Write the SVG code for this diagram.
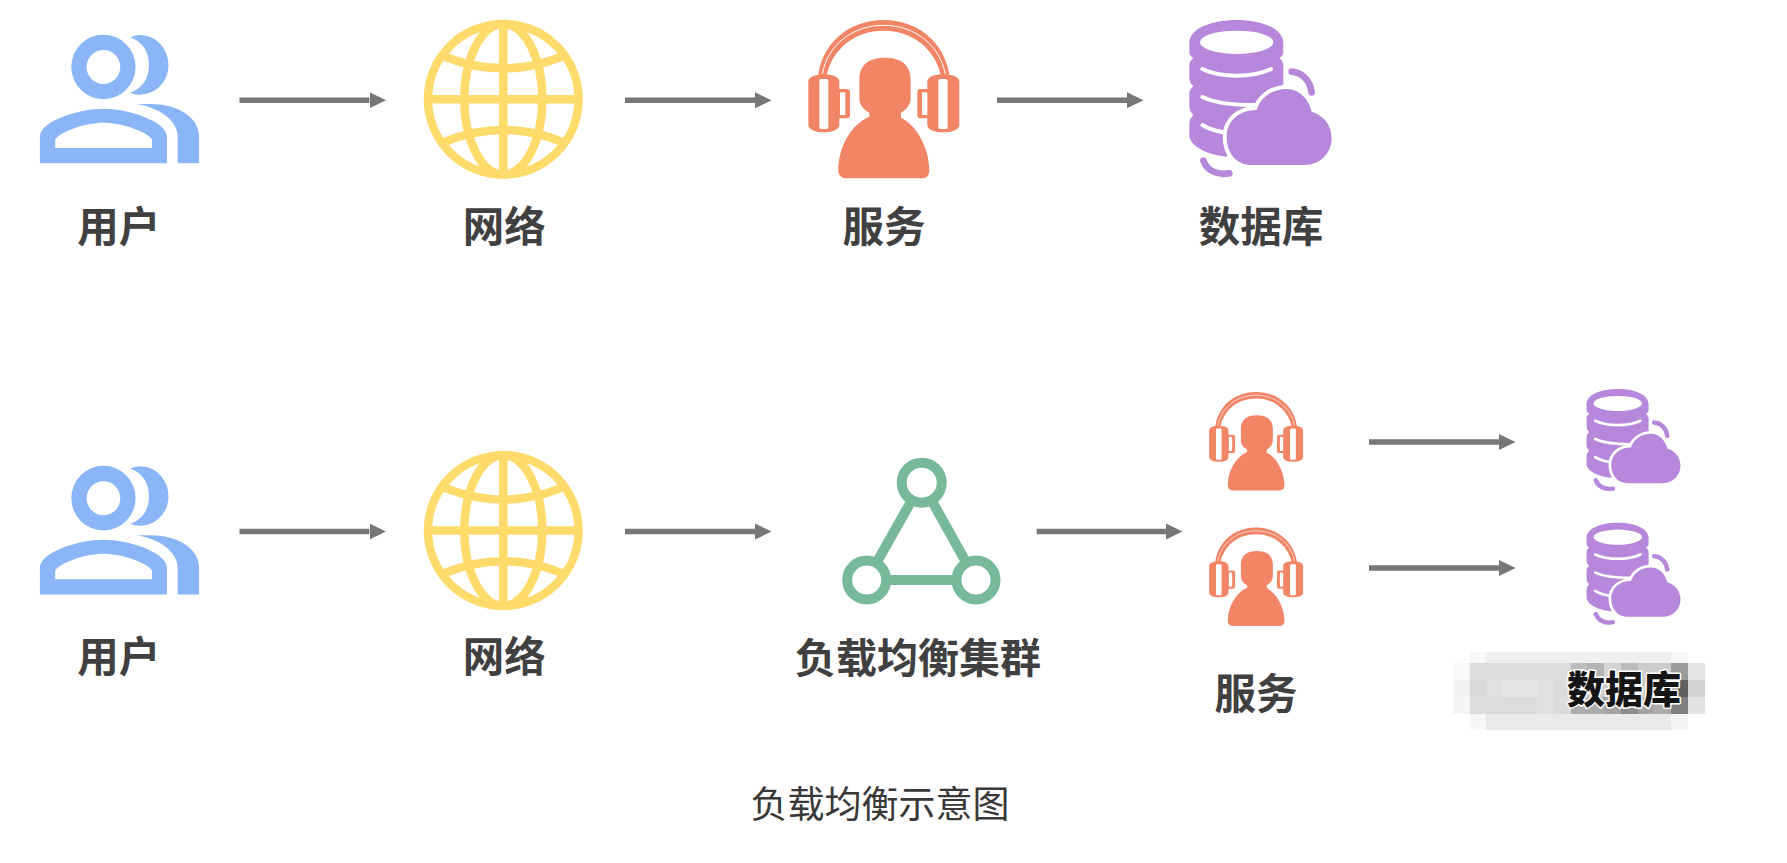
<svg xmlns="http://www.w3.org/2000/svg" width="1787" height="863" viewBox="0 0 1787 863">
<style>
text{font-family:"Noto Sans CJK SC","Noto Sans CJK JP",sans-serif;text-anchor:middle}
.lb{font-weight:700;font-size:41.5px;fill:#404040}
.cap{font-weight:400;font-size:37px;fill:#383838}
.mask{font-weight:900;font-size:38px;fill:#151515;stroke:#fff;stroke-width:3px;paint-order:stroke;stroke-linejoin:round}
.ar{stroke:#777;stroke-width:5.5;fill:none;marker-end:url(#ah)}
.u{fill:#8ab6f8;fill-rule:evenodd}
.g{fill:none;stroke:#ffdb6b;stroke-width:8.5}
.t{stroke:#79b99b;stroke-width:10;fill:#fff}
.h{fill:#f28566}
.w{fill:#fff}
.d{fill:#b687da}
.ds{fill:none;stroke:#fff;stroke-width:12;stroke-linecap:round}
.da{fill:none;stroke:#b687da;stroke-width:20;stroke-linecap:round}
</style>
<defs>
<marker id="ah" markerUnits="userSpaceOnUse" markerWidth="17" markerHeight="18" refX="0" refY="9" orient="auto" viewBox="0 0 17 18"><path d="M0 1L16.5 9L0 17Z" fill="#777"/></marker>
<g id="user" transform="translate(20,0) scale(.3827,.3333)">
<path class="u" d="M134 201a84 97 0 1 0 168 0a84 97 0 1 0-168 0ZM174 201a44 51 0 1 1 88 0a44 51 0 1 1-88 0Z"/>
<path class="u" d="M288 112C320 125 337 155 337 195C337 235 320 265 288 278C295 282 305 284 312 284C355 284 388 245 388 195C388 145 355 105 312 105C305 105 295 108 288 112Z"/>
<path class="u" d="M52 490L52 410C52 365 150 326 218 326C286 326 384 365 384 410L384 490ZM92 444L345 444L345 418C332 395 266 368 218 368C170 368 105 395 92 418Z"/>
<path class="u" d="M302 312L340 312C410 312 468 350 468 410L468 490L412 490L412 410C412 360 360 320 302 312Z"/>
</g>
<g id="globe">
<ellipse class="g" cx="503.3" cy="99.3" rx="75.3" ry="75.3"/>
<ellipse class="g" cx="503.3" cy="99.3" rx="39" ry="75.3"/>
<path class="g" d="M503.3 24V175M428 99.3H579M445 56.7Q503.3 80 561.5 56.7M445 141.7Q503.3 118.3 561.5 141.7"/>
</g>
<g id="phone">
<path class="h" d="M55 178C70 80 150 15 251 15C352 15 432 80 448 178L425 190C407 100 337 47 251 47C165 47 95 100 78 190Z"/>
<path d="M67 178C82 90 158 31 251 31C344 31 420 90 436 178" fill="none" stroke="#fff" stroke-width="3"/>
<path class="h" d="M25 200C25 185 50 178 71 178C95 178 118 185 118 200L118 222L140 222Q150 222 150 232L150 300Q150 310 140 310L118 310L118 330C118 345 95 352 71 352C50 352 25 345 25 330Z"/>
<path class="h" d="M382 200C382 185 405 178 430 178C455 178 478 185 478 200L478 330C478 345 455 352 430 352C405 352 382 345 382 330L382 310L362 310Q352 310 352 300L352 232Q352 222 362 222L382 222Z"/>
<rect class="w" x="58" y="192" width="27" height="150" rx="5"/>
<rect class="w" x="415" y="192" width="28" height="150" rx="5"/>
<rect class="w" x="120" y="232" width="16" height="68"/>
<rect class="w" x="366" y="232" width="16" height="68"/>
<path class="h" d="M255 128C205 128 178 150 178 195L178 250C178 270 192 285 208 293L208 305C150 330 115 400 115 465C115 482 125 490 140 490L365 490C380 490 388 482 388 465C388 400 350 330 303 308L303 293C318 285 332 270 332 250L332 195C332 150 305 128 255 128Z"/>
</g>
<g id="dbc">
<path class="d" d="M13 85C13 40 80 15 155 15C230 15 295 40 295 85L295 112C295 120 290 125 283 130C290 135 295 142 295 150L295 207L230 300L125 425C70 420 13 395 13 360L13 325C13 315 18 308 25 300C18 292 13 285 13 275L13 235C13 228 18 220 25 214C18 208 13 200 13 190L13 150C13 142 18 135 25 130C18 125 13 118 13 112Z"/>
<ellipse class="w" cx="155" cy="82" rx="110" ry="35"/>
<path class="ds" d="M52 162C85 178 125 182 155 182C190 182 225 178 258 162"/>
<path class="ds" d="M52 246C85 262 130 272 230 270"/>
<path class="ds" d="M52 330C70 342 90 348 130 355"/>
<path class="da" d="M320 170C350 172 375 195 380 232"/>
<path class="da" d="M55 437C65 465 95 482 133 475"/>
<path class="d" stroke="#fff" stroke-width="24" paint-order="stroke" d="M200 450C155 450 125 415 125 365C125 320 160 285 215 285C225 250 260 222 305 222C345 222 372 255 380 290C415 300 440 330 440 370C440 415 405 450 360 450Z"/>
</g>
</defs>
<rect width="1787" height="863" fill="#fff"/>
<g id="connectors">
<line class="ar" x1="239.5" y1="100.3" x2="369.5" y2="100.3"/>
<line class="ar" x1="625" y1="100.3" x2="755" y2="100.3"/>
<line class="ar" x1="997" y1="100.3" x2="1127" y2="100.3"/>
<line class="ar" x1="239.5" y1="531.5" x2="369.5" y2="531.5"/>
<line class="ar" x1="625" y1="531.5" x2="755" y2="531.5"/>
<line class="ar" x1="1036.7" y1="531.5" x2="1166" y2="531.5"/>
<line class="ar" x1="1369" y1="442" x2="1499" y2="442"/>
<line class="ar" x1="1369" y1="568" x2="1499" y2="568"/>
</g>
<g id="user-1"><use href="#user"/><text class="lb" x="118.8" y="241.5">用户</text></g>
<g id="network-1"><use href="#globe"/><text class="lb" x="504.2" y="241.5">网络</text></g>
<g id="service-1"><use href="#phone" transform="translate(800,15) scale(.3333)"/><text class="lb" x="884" y="241.5">服务</text></g>
<g id="database-1"><use href="#dbc" transform="translate(1185,15) scale(.3333)"/><text class="lb" x="1261" y="241.5">数据库</text></g>
<g id="user-2"><use href="#user" transform="translate(0,431.2)"/><text class="lb" x="118.8" y="672">用户</text></g>
<g id="network-2"><use href="#globe" transform="translate(0,431.2)"/><text class="lb" x="504.2" y="672">网络</text></g>
<g id="balancer">
<path class="t" d="M921.7 482.7L866.7 580L976 580Z"/>
<circle class="t" cx="921.7" cy="482.7" r="20"/>
<circle class="t" cx="866.7" cy="580" r="19.5"/>
<circle class="t" cx="976" cy="580" r="19.5"/>
<text class="lb" x="918" y="673" style="font-size:41px">负载均衡集群</text>
</g>
<g id="service-2"><use href="#phone" transform="translate(1204,388.8) scale(.2073)"/><use href="#phone" transform="translate(1204,524.4) scale(.2073)"/><text class="lb" x="1256" y="708.5">服务</text></g>
<g id="database-2"><use href="#dbc" transform="translate(1583.7,385.7) scale(.22,.2165)"/><use href="#dbc" transform="translate(1583.7,519.4) scale(.22,.2165)"/></g>
<g id="mosaic">
<rect x="1470" y="652" width="218" height="11" fill="#efefef"/>
<rect x="1470" y="652" width="16" height="11" fill="#f8f8f8"/>
<rect x="1671" y="652" width="17" height="11" fill="#f7f7f7"/>
<rect x="1453" y="663" width="252" height="17" fill="#dcdcdc"/>
<rect x="1453" y="663" width="17" height="17" fill="#f9f9f9"/>
<rect x="1571" y="663" width="16" height="17" fill="#bcbcbc"/>
<rect x="1587" y="663" width="17" height="17" fill="#b4b4b4"/>
<rect x="1604" y="663" width="17" height="17" fill="#d4d4d4"/>
<rect x="1621" y="663" width="17" height="17" fill="#bcbcbc"/>
<rect x="1638" y="663" width="33" height="17" fill="#cccccc"/>
<rect x="1671" y="663" width="17" height="17" fill="#9c9c9c"/>
<rect x="1688" y="663" width="17" height="17" fill="#e5e5e5"/>
<rect x="1453" y="680" width="17" height="17" fill="#f2f2f2"/>
<rect x="1470" y="680" width="16" height="17" fill="#d9d9d9"/>
<rect x="1486" y="680" width="17" height="17" fill="#e0e0e0"/>
<rect x="1503" y="680" width="34" height="17" fill="#e5e5e5"/>
<rect x="1537" y="680" width="17" height="17" fill="#e0e0e0"/>
<rect x="1554" y="680" width="17" height="17" fill="#dcdcdc"/>
<rect x="1571" y="680" width="100" height="17" fill="#cccccc"/>
<rect x="1671" y="680" width="17" height="17" fill="#606060"/>
<rect x="1688" y="680" width="17" height="17" fill="#d2d2d2"/>
<rect x="1453" y="697" width="17" height="17" fill="#f5f5f5"/>
<rect x="1470" y="697" width="101" height="17" fill="#dcdcdc"/>
<rect x="1537" y="697" width="17" height="17" fill="#e0e0e0"/>
<rect x="1571" y="697" width="33" height="17" fill="#acacac"/>
<rect x="1604" y="697" width="17" height="17" fill="#a4a4a4"/>
<rect x="1621" y="697" width="17" height="17" fill="#8c8c8c"/>
<rect x="1638" y="697" width="16" height="17" fill="#a4a4a4"/>
<rect x="1654" y="697" width="17" height="17" fill="#acacac"/>
<rect x="1671" y="697" width="17" height="17" fill="#808080"/>
<rect x="1688" y="697" width="17" height="17" fill="#e2e2e2"/>
<rect x="1470" y="714" width="218" height="16" fill="#eaeaea"/>
<rect x="1470" y="714" width="16" height="16" fill="#f7f7f7"/>
<rect x="1671" y="714" width="17" height="16" fill="#f3f3f3"/>
<text class="mask" x="1624" y="702.5">数据库</text>
</g>
<text class="cap" x="880" y="817.5">负载均衡示意图</text>
</svg>
